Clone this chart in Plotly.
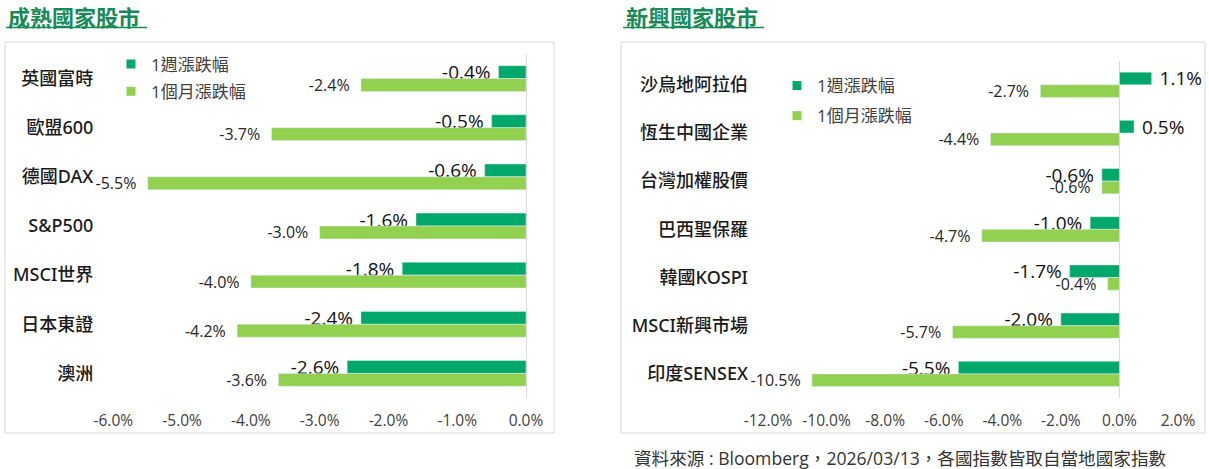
import plotly.graph_objects as go

W, H = 1209, 469

# 成熟國家股市
dev_names = ["英國富時", "歐盟600", "德國DAX", "S&P500", "MSCI世界", "日本東證", "澳洲"]
dev_week = [-0.4, -0.5, -0.6, -1.6, -1.8, -2.4, -2.6]
dev_month = [-2.4, -3.7, -5.5, -3.0, -4.0, -4.2, -3.6]
dev_ticks = [-6, -5, -4, -3, -2, -1, 0]

# 新興國家股市
emg_names = ["沙烏地阿拉伯", "恆生中國企業", "台灣加權股價", "巴西聖保羅", "韓國KOSPI", "MSCI新興市場", "印度SENSEX"]
emg_week = [1.1, 0.5, -0.6, -1.0, -1.7, -2.0, -5.5]
emg_month = [-2.7, -4.4, -0.6, -4.7, -0.4, -5.7, -10.5]
emg_ticks = [-12, -10, -8, -6, -4, -2, 0, 2]

series_names = ["1週漲跌幅", "1個月漲跌幅"]
titles = ["成熟國家股市", "新興國家股市"]
source = "資料來源 : Bloomberg，2026/03/13，各國指數皆取自當地國家指數"

C_WEEK = "#00a86b"
C_MONTH = "#92d050"
C_TITLE = "#178a55"
FONT = "Open Sans, Noto Sans CJK TC, sans-serif"
MED_FONT = "Noto Sans, Noto Sans CJK TC Medium, Noto Sans CJK TC, sans-serif"
NB = "\u00a0"


def px_x(x):
    return x / W


def px_y(y):
    return 1 - y / H


def labels(vals, pad):
    out = []
    for v in vals:
        s = f"{v:.1f}%"
        out.append(NB + s if v > 0 else s + NB * pad)
    return out


def tick_text(vals):
    return [f"{v:.1f}%" for v in vals]


fig = go.Figure()

panels = [
    (dev_names, dev_week, dev_month, "x", "y", "legend"),
    (emg_names, emg_week, emg_month, "x2", "y2", "legend2"),
]
for names, week, month, xa, ya, lg in panels:
    fig.add_trace(go.Bar(
        y=names, x=week, orientation="h", xaxis=xa, yaxis=ya,
        marker_color=C_WEEK, name=series_names[0], showlegend=False,
        text=labels(week, 1), textposition="outside", cliponaxis=False,
        constraintext="none",
        textfont=dict(family=FONT, size=19, color="#111111"),
    ))
    fig.add_trace(go.Bar(
        y=names, x=month, orientation="h", xaxis=xa, yaxis=ya,
        marker_color=C_MONTH, name=series_names[1], showlegend=False,
        text=labels(month, 2), textposition="outside", cliponaxis=False,
        constraintext="none",
        textfont=dict(family=FONT, size=16, color="#262626"),
    ))
    # legend entries with small square markers
    for nm, col in zip(series_names, [C_WEEK, C_MONTH]):
        fig.add_trace(go.Scatter(
            x=[None], y=[None], mode="markers", xaxis=xa, yaxis=ya,
            marker=dict(symbol="square", size=9, color=col),
            name=nm, legend=lg, legendgroup=lg + nm,
        ))

axis_font = dict(family=FONT, size=15.5, color="#404040")
cat_font = dict(family=MED_FONT, size=18, color="#1a1a1a", weight=500)
leg_font = dict(family=FONT, size=17, color="#404040")

fig.update_layout(
    width=W, height=H, autosize=False,
    margin=dict(l=0, r=0, t=0, b=0, autoexpand=False),
    paper_bgcolor="white", plot_bgcolor="white",
    barmode="group", bargap=0.475, bargroupgap=0,
    xaxis=dict(domain=[px_x(113.3), px_x(526)], range=[-6, 0],
               tickvals=dev_ticks, ticktext=tick_text(dev_ticks), showgrid=False,
               zeroline=True, zerolinecolor="#d9d9d9", zerolinewidth=1,
               tickfont=axis_font, ticklabelstandoff=11, automargin=False,
               fixedrange=True),
    yaxis=dict(domain=[px_y(398), px_y(54)], type="category",
               autorange="reversed", showgrid=False, tickfont=cat_font,
               ticklabelstandoff=19, automargin=False, fixedrange=True),
    xaxis2=dict(domain=[px_x(768), px_x(1178)], range=[-12, 2],
                tickvals=emg_ticks, ticktext=tick_text(emg_ticks), showgrid=False,
                zeroline=True, zerolinecolor="#d9d9d9", zerolinewidth=1,
                tickfont=axis_font, ticklabelstandoff=11, anchor="y2",
                automargin=False, fixedrange=True),
    yaxis2=dict(domain=[px_y(398), px_y(60.7)], type="category",
                autorange="reversed", showgrid=False, tickfont=cat_font,
                ticklabelstandoff=19, anchor="x2", automargin=False,
                fixedrange=True),
    legend=dict(x=px_x(111), y=px_y(46.5), xanchor="left", yanchor="top",
                bgcolor="rgba(0,0,0,0)", traceorder="grouped",
                tracegroupgap=2, font=leg_font),
    legend2=dict(x=px_x(777), y=px_y(68), xanchor="left", yanchor="top",
                 bgcolor="rgba(0,0,0,0)", traceorder="grouped",
                 tracegroupgap=5, font=leg_font),
)

# panel frames and title underlines
for x0, x1, ux0, ux1 in [(5, 554, 6, 147), (621, 1205, 623, 764)]:
    fig.add_shape(type="rect", xref="paper", yref="paper",
                  x0=px_x(x0), x1=px_x(x1), y0=px_y(433), y1=px_y(42),
                  line=dict(color="#d9d9d9", width=1), layer="below")
    fig.add_shape(type="line", xref="paper", yref="paper",
                  x0=px_x(ux0), x1=px_x(ux1), y0=px_y(27.5), y1=px_y(27.5),
                  line=dict(color=C_TITLE, width=1.5))

for t, x in zip(titles, [6, 624]):
    fig.add_annotation(text=t, xref="paper", yref="paper", x=px_x(x), y=px_y(16),
                       xanchor="left", yanchor="middle", showarrow=False,
                       font=dict(family="Noto Sans CJK TC", size=22, color=C_TITLE,
                                 weight=700))

fig.add_annotation(text=source, xref="paper", yref="paper", x=px_x(632), y=px_y(458),
                   xanchor="left", yanchor="middle", showarrow=False,
                   font=dict(family=FONT, size=17.6, color="#333333"))

# the page body has a default 8px margin; drop it so the figure sits at 0,0
fig.write_html("out.html", config={"displayModeBar": False},
               post_script="document.body.style.margin='0';")
